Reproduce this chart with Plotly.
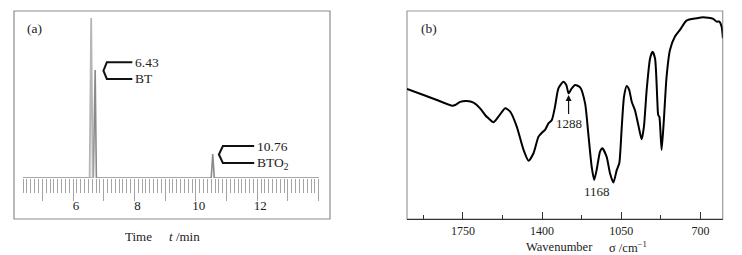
import plotly.graph_objects as go

W, H = 742, 255

# ---------------- Panel (a) data: chromatogram ----------------
chrom_t = [4.37, 6.55, 6.60, 6.66, 6.72, 6.76, 6.80, 10.50, 10.55, 10.60, 14.01]
chrom_h = [0, 0, 0, 0, 108, 0, 0, 0, 24, 0, 0]
bt_tall_t = [6.54, 6.59, 6.64]
bt_tall_h = [0, 160, 0]
a_tick_vals = [5, 6, 7, 8, 9, 10, 11, 12, 13, 14]
a_label_vals = [6, 8, 10, 12]
a_label_text = ["6", "8", "10", "12"]
bt_label = ["6.43", "BT"]
bto2_label = ["10.76", "BTO<sub>2</sub>"]
bt_bracket_t = [7.93, 7.10, 6.99, 7.10, 7.93]
bt_bracket_h = [115.7, 115.7, 107.3, 99, 99]
bto2_bracket_t = [11.90, 10.88, 10.75, 10.88, 11.90]
bto2_bracket_h = [32, 32, 23.5, 15, 15]

# ---------------- Panel (b) data: IR spectrum ----------------
wavenumber = [1997, 1924, 1865, 1799, 1784, 1762, 1732, 1703, 1674, 1652, 1637, 1615,
              1593, 1563, 1541, 1512, 1482, 1460, 1438, 1416, 1401, 1387, 1372, 1357,
              1343, 1328, 1306, 1293, 1283, 1269, 1254, 1232, 1210, 1196, 1181, 1170,
              1159, 1144, 1134, 1115, 1100, 1085, 1070, 1059, 1048, 1038, 1026, 1015,
              1004, 990, 975, 960, 950, 938, 923, 912, 901, 891, 887, 882, 872, 862,
              850, 835, 813, 791, 762, 717, 688, 644, 629, 617, 607, 601]
transmittance = [62.5, 59.6, 57.2, 54.5, 54.8, 56.3, 56.7, 55.9, 53.2, 50.0, 48.4, 46.5,
                 49.2, 53.2, 51.6, 44.4, 33.2, 28.0, 31.6, 39.6, 41.5, 42.8, 46.0, 47.6,
                 54.0, 62.8, 66.0, 64.4, 60.4, 62.8, 64.4, 63.3, 55.6, 41.2, 25.2, 18.8,
                 23.6, 32.4, 34.0, 30.0, 22.0, 17.5, 23.6, 26.8, 44.4, 58.8, 63.9, 62.0,
                 56.4, 52.4, 45.2, 38.3, 44.4, 62.0, 77.2, 80.4, 77.2, 57.2, 50.0, 49.2,
                 33.2, 47.6, 68.4, 81.3, 87.7, 90.9, 95.4, 96.5, 97.0, 96.2, 94.9, 94.9,
                 92.5, 86.9]
b_major_vals = [1750, 1400, 1050, 700]
b_minor_vals = [1925, 1575, 1225, 875]
peak1_wn, peak1_T, peak1_text = 1283, 59.6, "1288"
peak2_wn, peak2_T, peak2_text = 1159, 13.0, "1168"

SERIF = "Liberation Serif, Times New Roman, serif"
TICK_GRAY = "#a4a4a4"

def px(x):
    return x / W

def py(y):
    return 1 - y / H

fig = go.Figure()

# panel (a)
fig.add_trace(go.Scatter(x=chrom_t, y=chrom_h, mode="lines", xaxis="x", yaxis="y",
                         line=dict(color="#8a8a8a", width=1.6), showlegend=False, hoverinfo="skip"))
fig.add_trace(go.Scatter(x=bt_tall_t, y=bt_tall_h, mode="lines", xaxis="x", yaxis="y",
                         line=dict(color="#b5b5b5", width=1.8), showlegend=False, hoverinfo="skip"))
fig.add_trace(go.Scatter(x=bt_bracket_t, y=bt_bracket_h, mode="lines", xaxis="x", yaxis="y",
                         line=dict(color="#111", width=2), showlegend=False, hoverinfo="skip"))
fig.add_trace(go.Scatter(x=bto2_bracket_t, y=bto2_bracket_h, mode="lines", xaxis="x", yaxis="y",
                         line=dict(color="#111", width=2), showlegend=False, hoverinfo="skip"))
fig.add_trace(go.Scatter(x=[4.37], y=[0], mode="markers", xaxis="x3", yaxis="y",
                         marker=dict(opacity=0), showlegend=False, hoverinfo="skip"))

# panel (b)
fig.add_trace(go.Scatter(x=wavenumber, y=transmittance, mode="lines", xaxis="x2", yaxis="y2",
                         line=dict(color="#000", width=2, shape="spline", smoothing=0.6),
                         showlegend=False, hoverinfo="skip"))

font = dict(family=SERIF, size=12, color="#222")

fig.update_layout(
    width=W, height=H, margin=dict(l=0, r=0, t=0, b=0),
    paper_bgcolor="white", plot_bgcolor="rgba(0,0,0,0)",
    font=font,
    xaxis=dict(domain=[px(23), px(319)], range=[4.37, 14.01], anchor="y",
               showgrid=False, zeroline=False, showline=False,
               tickmode="array", tickvals=a_tick_vals, showticklabels=False,
               ticks="outside", ticklen=22, tickwidth=1, tickcolor=TICK_GRAY,
               minor=dict(dtick=0.125, tick0=0, ticks="outside", ticklen=14,
                          tickwidth=1, tickcolor=TICK_GRAY, showgrid=False)),
    xaxis3=dict(domain=[px(23), px(319)], range=[4.37, 14.01], anchor="y", overlaying="x",
                showgrid=False, zeroline=False, showline=False,
                tickmode="array", tickvals=a_label_vals, ticktext=a_label_text,
                ticks="outside", ticklen=15, tickcolor="rgba(0,0,0,0)",
                ticklabelshift=3,
                tickfont=dict(family=SERIF, size=13, color="#222")),
    yaxis=dict(domain=[py(178), py(11)], range=[0, 167], anchor="x",
               visible=False),
    xaxis2=dict(domain=[px(407), px(722.7)], range=[1997, 602], anchor="y2",
                showgrid=False, zeroline=False, showline=True, linecolor="#333", linewidth=1.2,
                tickmode="array", tickvals=b_major_vals,
                ticktext=[str(v) for v in b_major_vals],
                ticks="inside", ticklen=7, tickwidth=1.2, tickcolor="#333",
                minor=dict(tickmode="array", tickvals=b_minor_vals, ticks="inside",
                           ticklen=4, tickwidth=1.2, tickcolor="#333", showgrid=False),
                tickfont=dict(family=SERIF, size=12, color="#222")),
    yaxis2=dict(domain=[py(219), py(11)], range=[0, 100], anchor="x2",
                showgrid=False, zeroline=False, showticklabels=False, ticks="",
                showline=False),
)

shapes = [
    dict(type="rect", xref="paper", yref="paper", x0=px(14), x1=px(330), y0=py(219), y1=py(11),
         line=dict(color="#8c8c8c", width=1.2), fillcolor="rgba(0,0,0,0)", layer="below"),
    dict(type="rect", xref="paper", yref="paper", x0=px(407), x1=px(722.7), y0=py(219), y1=py(11),
         line=dict(color="#9a9a9a", width=1.2), fillcolor="rgba(0,0,0,0)", layer="below"),
]
fig.update_layout(shapes=shapes)

def txt(text, x, y, xref="paper", yref="paper", xanchor="center", size=12, xshift=0):
    return dict(text=text, xref=xref, yref=yref, x=x, y=y, showarrow=False,
                xanchor=xanchor, yanchor="middle", xshift=xshift,
                font=dict(family=SERIF, size=size, color="#222"))

ann = [
    txt("(a)", px(34.5), py(28), size=13.5),
    txt(bt_label[0], bt_bracket_t[0], bt_bracket_h[0], "x", "y", "left", size=13.5, xshift=1),
    txt(bt_label[1], bt_bracket_t[-1], bt_bracket_h[-1], "x", "y", "left", size=13.5, xshift=1),
    txt(bto2_label[0], bto2_bracket_t[0], bto2_bracket_h[0], "x", "y", "left", size=13.5, xshift=1),
    txt(bto2_label[1], bto2_bracket_t[-1], bto2_bracket_h[-1], "x", "y", "left", size=13.5, xshift=1),
    txt("Time", px(138.5), py(236), size=13),
    txt("<i>t</i> /min", px(167), py(236), xanchor="left", size=13),
    txt("(b)", px(429), py(28), size=13.5),
    dict(text=peak1_text, xref="x2", yref="y2", x=peak1_wn, y=peak1_T,
         showarrow=True, ax=0, ay=28, arrowhead=2, arrowsize=1, arrowwidth=1.2,
         arrowcolor="#111", font=dict(family=SERIF, size=13, color="#222")),
    txt(peak2_text, peak2_wn, peak2_T, "x2", "y2", size=13),
    dict(text="Wavenumber", xref="paper", yref="paper", x=px(559.5), y=py(238), showarrow=False,
         xanchor="center", yanchor="top", font=dict(family=SERIF, size=12.5, color="#222")),
    dict(text="σ /cm<sup>−1</sup>", xref="paper", yref="paper", x=px(607), y=py(237), showarrow=False,
         xanchor="left", yanchor="top", font=dict(family=SERIF, size=12.5, color="#222")),
]
fig.update_layout(annotations=ann)

fig.write_html("out.html", config={"displayModeBar": False},
               post_script="document.body.style.margin='0px';document.body.style.overflow='hidden';")
